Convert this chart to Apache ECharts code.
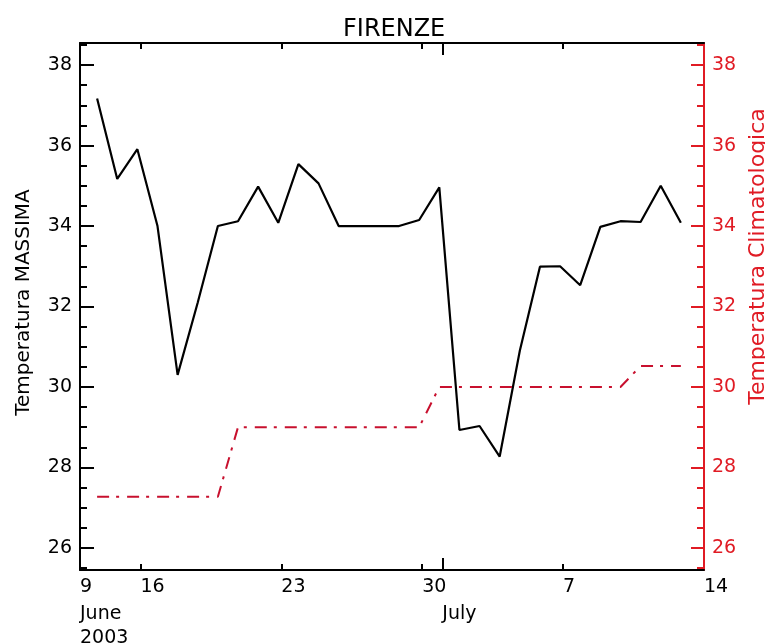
<!DOCTYPE html>
<html>
<head>
<meta charset="utf-8">
<title>FIRENZE</title>
<script src="https://cdn.jsdelivr.net/npm/echarts@6/dist/echarts.min.js"></script>
<style>
  html, body { margin: 0; padding: 0; background: #fff; }
  #chart { width: 765px; height: 644px; }
</style>
</head>
<body>
<div id="chart"></div>
<script>
// giorni dal primo dato (10 giugno 2003 ca.)
const days = [0, 1, 2, 3, 4, 5, 6, 7, 8, 9, 10, 11, 12, 13, 14, 15, 16, 17, 18, 19,
  20, 21, 22, 23, 24, 25, 26, 27, 28, 29];
const tMax = [37.17, 35.17, 35.91, 34.0, 30.3, 32.1, 34.0, 34.12, 34.98, 34.08,
  35.54, 35.06, 34.0, 34.0, 34.0, 34.0, 34.15, 34.96, 28.93, 29.03,
  28.27, 30.9, 32.99, 33.0, 32.53, 33.98, 34.12, 34.1, 35.0, 34.08];
const tClima = [27.27, 27.27, 27.27, 27.27, 27.27, 27.27, 27.27, 29.0, 29.0, 29.0,
  29.0, 29.0, 29.0, 29.0, 29.0, 29.0, 29.0, 30.0, 30.0, 30.0,
  30.0, 30.0, 30.0, 30.0, 30.0, 30.0, 30.0, 30.52, 30.52, 30.52];

// asse x: etichette e tacche (in giorni)
const xLabelPos = [-0.85, 2.15, 9.15, 16.15, 23.15, 30.15];
const xLabels = ["9", "16", "23", "30", "7", "14"];
const xMinorTicks = [2.15, 9.15, 16.15, 23.15];
const monthPos = [-0.85, 17.15];
const monthLabels = ["June\n2003", "July"];
const monthTicks = [17.15];

// asse y
const yLabels = [26, 28, 30, 32, 34, 36, 38];
const yMinorTicks = [25.5, 26.5, 27, 27.5, 28.5, 29, 29.5, 30.5, 31, 31.5, 32.5,
  33, 33.5, 34.5, 35, 35.5, 36.5, 37, 37.5, 38.5];

const X_MIN = -0.85, X_MAX = 30.15, Y_MIN = 25.45, Y_MAX = 38.55;
const FONT = "DejaVu Sans";
const RED = "#e01b24";

const chart = echarts.init(document.getElementById("chart"), null, { renderer: "canvas" });

const noZeroLine = (color, show = true) => ({ show, onZero: false, lineStyle: { color, width: 2 } });
const xBase = { type: "value", min: X_MIN, max: X_MAX, splitLine: { show: false } };
const yBase = { type: "value", min: Y_MIN, max: Y_MAX, splitLine: { show: false } };

chart.setOption({
  animation: false,
  backgroundColor: "#fff",
  title: {
    text: "FIRENZE", left: 338, top: 13,
    textStyle: { fontFamily: FONT, fontSize: 24, fontWeight: "normal", color: "#000" },
  },
  grid: { left: 80, right: 61, top: 43, bottom: 74, outerBoundsMode: "none" },
  xAxis: [
    {
      ...xBase, position: "bottom",
      axisLine: noZeroLine("#000"),
      axisTick: { inside: true, length: 6, customValues: xMinorTicks, lineStyle: { color: "#000", width: 2 } },
      axisLabel: {
        customValues: xLabelPos, align: "left", margin: 8,
        fontFamily: FONT, fontSize: 19, color: "#000",
        formatter: (v) => xLabels[xLabelPos.indexOf(v)],
      },
    },
    {
      ...xBase, position: "bottom",
      axisLine: noZeroLine("#000", false),
      axisTick: { inside: true, length: 12, customValues: monthTicks, lineStyle: { color: "#000", width: 2 } },
      axisLabel: {
        customValues: monthPos, align: "left", margin: 32, lineHeight: 24,
        verticalAlign: "top",
        fontFamily: FONT, fontSize: 19, color: "#000",
        formatter: (v) => monthLabels[monthPos.indexOf(v)],
      },
    },
    {
      ...xBase, position: "top",
      axisLine: noZeroLine("#000"),
      axisTick: { inside: true, length: 6, customValues: xMinorTicks, lineStyle: { color: "#000", width: 2 } },
      axisLabel: { show: false },
    },
    {
      ...xBase, position: "top",
      axisLine: noZeroLine("#000", false),
      axisTick: { inside: true, length: 12, customValues: monthTicks, lineStyle: { color: "#000", width: 2 } },
      axisLabel: { show: false },
    },
  ],
  yAxis: [
    {
      ...yBase, position: "left",
      name: "Temperatura MASSIMA", nameLocation: "middle", nameGap: 46, nameRotate: 90,
      nameTextStyle: { fontFamily: FONT, fontSize: 20, color: "#000", padding: [0, 0, 0, 8] },
      axisLine: noZeroLine("#000"),
      axisTick: { inside: true, length: 14, customValues: yLabels, lineStyle: { color: "#000", width: 2 } },
      axisLabel: { customValues: yLabels, margin: 8, fontFamily: FONT, fontSize: 19, color: "#000" },
    },
    {
      ...yBase, position: "left",
      axisLine: noZeroLine("#000", false),
      axisTick: { inside: true, length: 7, customValues: yMinorTicks, lineStyle: { color: "#000", width: 2 } },
      axisLabel: { show: false },
    },
    {
      ...yBase, position: "right",
      name: "Temperatura Climatologica", nameLocation: "middle", nameGap: 41, nameRotate: 90,
      nameTextStyle: { fontFamily: FONT, fontSize: 22, color: RED, padding: [0, 0, 0, 100] },
      axisLine: noZeroLine(RED),
      axisTick: { inside: true, length: 13, customValues: yLabels, lineStyle: { color: RED, width: 2 } },
      axisLabel: { customValues: yLabels, margin: 8, fontFamily: FONT, fontSize: 19, color: RED },
    },
    {
      ...yBase, position: "right",
      axisLine: noZeroLine(RED, false),
      axisTick: { inside: true, length: 7, customValues: yMinorTicks, lineStyle: { color: RED, width: 2 } },
      axisLabel: { show: false },
    },
  ],
  series: [
    {
      name: "Temperatura MASSIMA", type: "line",
      xAxisIndex: 0, yAxisIndex: 0,
      data: days.map((d, i) => [d, tMax[i]]),
      showSymbol: false,
      lineStyle: { color: "#000", width: 2.2 },
    },
    {
      name: "Temperatura Climatologica", type: "line",
      xAxisIndex: 0, yAxisIndex: 2,
      data: days.map((d, i) => [d, tClima[i]]),
      showSymbol: false,
      lineStyle: { color: "#c8102e", width: 2, type: [12, 7, 3, 8] },
    },
  ],
});
</script>
</body>
</html>
